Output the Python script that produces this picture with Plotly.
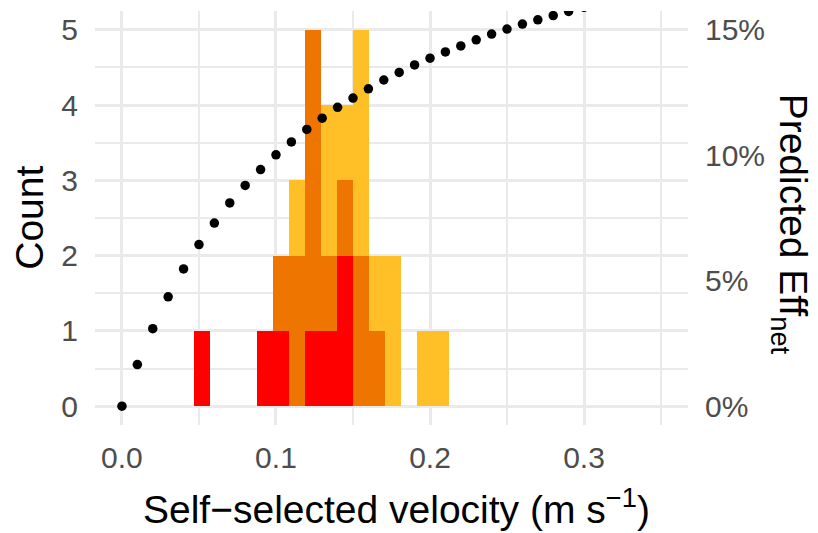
import plotly.graph_objects as go

# ---- data ----
bin_centers = [0.0517, 0.0931, 0.1034, 0.1138, 0.1241, 0.1345, 0.1448,
               0.1552, 0.1655, 0.1759, 0.1966, 0.2069]
bin_width = 0.010345
red_counts    = [1, 1, 1, 0, 1, 1, 2, 0, 0, 0, 0, 0]
orange_counts = [0, 0, 1, 2, 4, 1, 1, 2, 1, 0, 0, 0]
yellow_counts = [0, 0, 0, 1, 0, 2, 1, 3, 1, 2, 1, 1]

vel = [0.00, 0.01, 0.02, 0.03, 0.04, 0.05, 0.06, 0.07, 0.08, 0.09, 0.10,
       0.11, 0.12, 0.13, 0.14, 0.15, 0.16, 0.17, 0.18, 0.19, 0.20,
       0.21, 0.22, 0.23, 0.24, 0.25, 0.26, 0.27, 0.28, 0.29, 0.30]
eff_pct = [0.0, 1.66, 3.09, 4.36, 5.47, 6.44, 7.30, 8.10, 8.80, 9.43, 10.02,
           10.53, 11.03, 11.48, 11.91, 12.28, 12.65, 13.00, 13.30, 13.60, 13.87,
           14.12, 14.36, 14.60, 14.83, 15.03, 15.23, 15.40, 15.57, 15.73, 15.90]

x_ticks = [0.0, 0.1, 0.2, 0.3]
x_ticklabels = ["0.0", "0.1", "0.2", "0.3"]
y_ticks = [0, 1, 2, 3, 4, 5]
y2_ticks = [0, 5, 10, 15]
y2_ticklabels = ["0%", "5%", "10%", "15%"]

FONT = "Liberation Sans, Arial, sans-serif"
GRID = "#EAEAEA"
TICKC = "#4D4D4D"

fig = go.Figure()
for counts, col in [(red_counts, "#FF0000"), (orange_counts, "#EE7600"), (yellow_counts, "#FFBF26")]:
    fig.add_trace(go.Bar(x=bin_centers, y=counts, width=bin_width,
                         marker=dict(color=col, line=dict(width=0)),
                         showlegend=False, yaxis="y"))

fig.add_trace(go.Scatter(x=vel, y=eff_pct, mode="markers", yaxis="y2",
                         marker=dict(color="black", size=9.5),
                         showlegend=False, cliponaxis=True))

fig.update_layout(
    width=818, height=533,
    margin=dict(l=95, r=130, t=11, b=107.5),
    paper_bgcolor="white", plot_bgcolor="white",
    barmode="stack", bargap=0,
    font=dict(family=FONT),
    xaxis=dict(range=[-0.0175, 0.3675], tickvals=x_ticks, ticktext=x_ticklabels,
               showgrid=True, gridcolor=GRID, gridwidth=2.6, zeroline=False,
               showline=False, ticks="", tickfont=dict(size=30, color=TICKC),
               minor=dict(tickvals=[0.05, 0.15, 0.25, 0.35], showgrid=True, gridcolor=GRID, gridwidth=1.5),
               ticklabelstandoff=12),
    yaxis=dict(range=[-0.25, 5.25], tickvals=y_ticks,
               showgrid=True, gridcolor=GRID, gridwidth=2.6, zeroline=False,
               showline=False, ticks="", tickfont=dict(size=30, color=TICKC),
               minor=dict(tickvals=[0.5, 1.5, 2.5, 3.5, 4.5], showgrid=True, gridcolor=GRID, gridwidth=1.5),
               ticklabelstandoff=16),
    yaxis2=dict(range=[-0.75, 15.75], tickvals=y2_ticks, ticktext=y2_ticklabels,
                overlaying="y", side="right", showgrid=False, zeroline=False,
                showline=False, ticks="", tickfont=dict(size=30, color=TICKC),
                ticklabelstandoff=16),
    annotations=[
        dict(text="Count", xref="paper", yref="paper", x=-0.111, y=0.501,
             textangle=-90, showarrow=False, font=dict(size=39, color="black"),
             xanchor="center", yanchor="middle"),
        dict(text="Predicted Eff<sub>net</sub>", xref="paper", yref="paper", x=1.172, y=0.484,
             textangle=90, showarrow=False, font=dict(size=39, color="black"),
             xanchor="center", yanchor="middle"),
        dict(text="Self\u2212selected velocity (m s<sup>\u22121</sup>)", xref="paper", yref="paper",
             x=0.509, y=-0.197, showarrow=False, font=dict(size=39, color="black"),
             xanchor="center", yanchor="middle"),
    ],
)

fig.write_html("out.html")
